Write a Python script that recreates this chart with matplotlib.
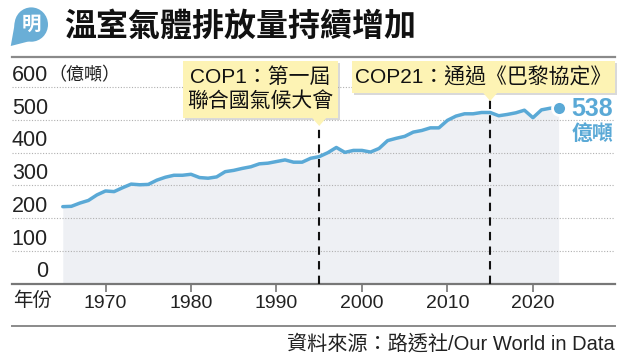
import matplotlib.pyplot as plt
import matplotlib.transforms as mtransforms
from matplotlib.patches import Circle, Polygon, Rectangle

W, H = 630, 361

YEARS = list(range(1965, 2024))
EMISSIONS = [235, 236, 246, 254, 271, 283, 281, 293, 304, 302,
             303, 316, 325, 331, 331, 334, 324, 322, 326, 342,
             346, 352, 357, 366, 368, 373, 378, 371, 371, 383,
             388, 400, 416, 401, 407, 407, 402, 413, 437, 444,
             450, 463, 468, 476, 476, 499, 512, 519, 519, 523,
             523, 513, 517, 522, 530, 507, 531, 536, 538]
Y_TICKS = [0, 100, 200, 300, 400, 500, 600]
X_TICKS = [1970, 1980, 1990, 2000, 2010, 2020]
EVENT_YEARS = [1995, 2015]
EVENT_LABELS = ['COP1：第一屆\n聯合國氣候大會', 'COP21：通過《巴黎協定》']

TITLE = '溫室氣體排放量持續增加'
UNIT = '（億噸）'
SOURCE = '資料來源：路透社/Our World in Data'

BLUE = '#5aa9d6'
FILL = '#eef0f4'
BOX = '#fdf3b4'
MIX = ['Liberation Sans', 'Noto Sans CJK TC']
CJK = ['Noto Sans CJK TC', 'DejaVu Sans']


def fx(x):
    return x / W


def fy(y):
    return 1 - y / H


def main():
    fig = plt.figure(figsize=(W / 100, H / 100), dpi=100)
    fig.patch.set_facecolor('white')

    # main axes: left 12px, right 615px, x-axis at y=283.5, top separator at y=57
    ax = fig.add_axes([fx(12), fy(283.5), fx(615) - fx(12), fy(57) - fy(283.5)])
    ax.set_xlim(1959.06, 2029.6)
    ax.set_ylim(0, 692.7)

    for v in Y_TICKS[1:]:
        ax.axhline(v, color='#b0b0b0', lw=0.8, ls=(0, (1, 1.5)), zorder=1)

    ax.fill_between(YEARS, EMISSIONS, 0, color=FILL, lw=0, zorder=0)
    ax.plot(YEARS, EMISSIONS, color=BLUE, lw=2.5, zorder=3, solid_capstyle='round')
    ax.plot(YEARS[-1], EMISSIONS[-1], 'o', ms=10, mfc=BLUE, mec='white', mew=2, zorder=5)

    for sp in ['left', 'right']:
        ax.spines[sp].set_visible(False)
    ax.spines['top'].set_color('#8a8a8a')
    ax.spines['top'].set_linewidth(1.6)
    ax.spines['bottom'].set_color('#777777')
    ax.spines['bottom'].set_linewidth(1.6)

    ax.set_yticks([])
    ax.set_xticks(X_TICKS)
    ax.set_xticklabels([str(t) for t in X_TICKS], family=MIX, fontsize=14, color='#222222')
    ax.tick_params(axis='x', direction='out', length=6, width=1.2, color='#777777', pad=2)

    ylab = mtransforms.blended_transform_factory(ax.transAxes, ax.transData)
    for v in Y_TICKS:
        ax.text(0.0597, v + 36, str(v), transform=ylab, ha='right', va='center',
                family=MIX, fontsize=15.5, color='#222222')
    ax.text(0.0597, Y_TICKS[-1] + 36, UNIT, transform=ylab, ha='left', va='center',
            family=CJK, fontsize=13, color='#222222')

    fig.text(fx(13), fy(301), '年份', ha='left', va='center', family=CJK,
             fontsize=14, color='#222222')

    # event markers
    tops = [482, 561]
    for yr, top in zip(EVENT_YEARS, tops):
        ax.plot([yr, yr], [0, top], color='#111111', lw=1.5, ls=(0, (4, 3)), zorder=4)

    bt = mtransforms.blended_transform_factory(ax.transData, fig.transFigure)
    boxes = [(183, 61, 338, 118), (352, 61, 615, 93)]
    for yr, (x0, y0, x1, y1), label in zip(EVENT_YEARS, boxes, EVENT_LABELS):
        fig.patches.append(Rectangle((fx(x0 + 2), fy(y1 + 2)), fx(x1 - x0), fy(y0) - fy(y1),
                                     transform=fig.transFigure, fc='#000000', alpha=0.15,
                                     ec='none', zorder=5))
        fig.patches.append(Rectangle((fx(x0), fy(y1)), fx(x1 - x0), fy(y0) - fy(y1),
                                     transform=fig.transFigure, fc=BOX, ec='none', zorder=6))
        fig.patches.append(Polygon([(yr - 0.85, fy(y1) + 0.001), (yr + 0.85, fy(y1) + 0.001),
                                    (yr, fy(y1 + 8))], closed=True, transform=bt,
                                   fc=BOX, ec='none', zorder=6))
        fig.text(fx((x0 + x1) / 2), fy((y0 + y1) / 2), label, ha='center', va='center',
                 family=MIX, fontsize=15, color='#111111', linespacing=1.25, zorder=7)

    # end label
    fig.text(fx(613), fy(109), str(EMISSIONS[-1]), ha='right', va='center',
             family=MIX, fontsize=18, fontweight='bold', color=BLUE)
    fig.text(fx(613), fy(133), '億噸', ha='right', va='center',
             family=CJK, fontsize=15, fontweight='bold', color=BLUE)

    # title and logo
    fig.text(fx(64), fy(27), TITLE, ha='left', va='center', family=CJK,
             fontsize=23, fontweight='heavy', color='#111111')
    lg = fig.add_axes([fx(10), fy(46), fx(38), fy(7) - fy(46)])
    lg.set_xlim(0, 1)
    lg.set_ylim(0, 1)
    lg.axis('off')
    lg.add_patch(Circle((0.56, 0.55), 0.44, fc='#6aaed6', ec='none'))
    lg.add_patch(Polygon([(0.02, 0.0), (0.13, 0.6), (0.5, 0.12)], fc='#6aaed6', ec='none'))
    lg.text(0.56, 0.55, '明', ha='center', va='center', family=CJK, fontsize=14,
            fontweight='bold', color='white')

    # footer
    fig.add_artist(plt.Line2D([fx(12), fx(615)], [fy(326), fy(326)],
                              transform=fig.transFigure, color='#8a8a8a', lw=1.4))
    fig.text(fx(615), fy(344), SOURCE, ha='right', va='center', family=MIX,
             fontsize=14.5, color='#222222')

    fig.savefig('out.png', dpi=100)


if __name__ == '__main__':
    main()
